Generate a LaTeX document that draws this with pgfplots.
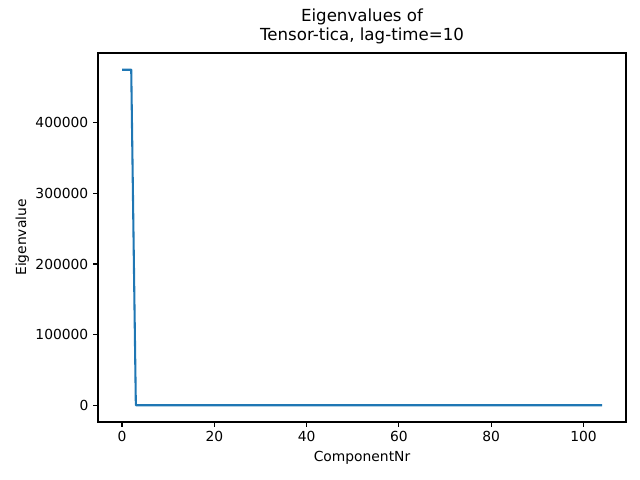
\documentclass[border=0pt]{standalone}
\usepackage{fontspec}
\setmainfont{DejaVu Sans}
\usepackage{pgfplots}
\pgfplotsset{compat=1.18}
\definecolor{mplblue}{HTML}{1F77B4}
\begin{document}
\fontsize{13.9}{16.5}\selectfont
\begin{tikzpicture}[x=1bp,y=1bp]
\path (0,0) rectangle (640,480);
\begin{axis}[
  at={(98bp,58bp)}, anchor=south west,
  scale only axis, width=528bp, height=369bp,
  xmin=-5.2, xmax=109.2, ymin=-23750, ymax=498750,
  xtick={0,20,40,60,80,100},
  ytick={0,100000,200000,300000,400000},
  scaled y ticks=false,
  /pgf/number format/assume math mode=true,
  /pgf/number format/fixed,
  /pgf/number format/1000 sep={},
  tick align=outside, tick pos=left,
  major tick length=4.86bp,
  every tick/.style={black, line width=1.1bp},
  axis line style={line width=1.1bp},
  tick label style={font=\fontsize{13.9}{16}\selectfont},
  label style={font=\fontsize{13.9}{16}\selectfont},
  xlabel={ComponentNr}, ylabel={Eigenvalue},
  ylabel style={yshift=-3bp},
  title={Eigenvalues of\\Tensor-tica, lag-time=10},
  title style={align=center, font=\fontsize{16.7}{19.5}\selectfont, yshift=-2bp},
  clip=false,
]
\addplot[mplblue, line width=2.08bp, line join=round] coordinates {
(0,475000) (1,475000) (2,475000) (3,0) (4,0) (104,0)
};
\end{axis}
\end{tikzpicture}
\end{document}
